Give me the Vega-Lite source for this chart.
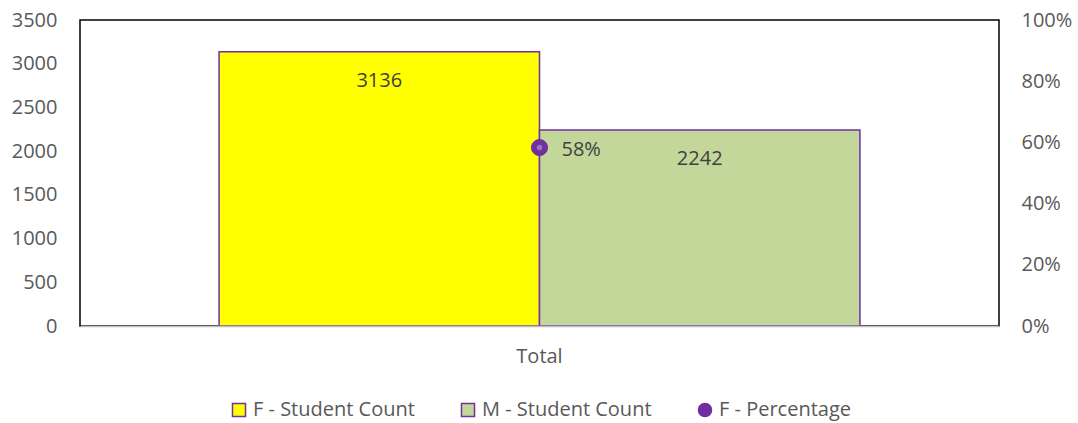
{
  "$schema": "https://vega.github.io/schema/vega-lite/v6.json",
  "width": 919,
  "height": 306,
  "padding": {"left": 11, "top": 10, "right": 5, "bottom": 5},
  "background": "white",
  "config": {
    "font": "Open Sans",
    "view": {"stroke": "#000000", "strokeWidth": 1.5},
    "axis": {"grid": false, "ticks": false, "labelFontSize": 20, "labelColor": "#595959", "titleColor": "#595959", "labelFont": "Open Sans"},
    "legend": {"labelFontSize": 20, "labelColor": "#595959", "labelFont": "Open Sans", "labelLimit": 0, "layout": {"bottom": {"anchor": "middle"}}}
  },
  "data": {
    "values": [
      {"category": "Total", "series": "F - Student Count", "count": 3136},
      {"category": "Total", "series": "M - Student Count", "count": 2242},
      {"category": "Total", "series": "F - Percentage", "pct": 0.5831}
    ]
  },
  "layer": [
    {
      "transform": [{"filter": "datum.count != null"}],
      "layer": [
        {
          "mark": {"type": "bar", "stroke": "#7030A0", "strokeWidth": 1.5},
          "encoding": {
            "x": {"field": "category", "type": "nominal", "title": null,
                  "scale": {"paddingInner": 0, "paddingOuter": 0.217},
                  "axis": {"labelAngle": 0, "labelPadding": 20, "domainColor": "#BFBFBF", "domainWidth": 1.5, "zindex": 1}},
            "xOffset": {"field": "series", "type": "nominal", "scale": {"domain": ["F - Student Count", "M - Student Count"], "paddingInner": 0, "paddingOuter": 0}},
            "y": {"field": "count", "type": "quantitative", "title": null,
                  "scale": {"domain": [0, 3500]},
                  "axis": {"values": [0, 500, 1000, 1500, 2000, 2500, 3000, 3500], "format": "d", "domain": false, "labelPadding": 23}},
            "fill": {"field": "series", "type": "nominal",
                     "scale": {"domain": ["F - Student Count", "M - Student Count", "F - Percentage"], "range": ["#FFFF00", "#C4D79B", "#7030A0"]},
                     "legend": {"title": null, "orient": "bottom", "direction": "horizontal", "symbolStrokeColor": "#7030A0", "symbolStrokeWidth": 1.5, "symbolSize": 170, "columnPadding": 43, "labelOffset": 4, "offset": 34}}
          }
        },
        {
          "mark": {"type": "text", "fontSize": 20, "color": "#404040", "baseline": "middle", "dy": 29, "font": "Open Sans"},
          "encoding": {
            "x": {"field": "category", "type": "nominal"},
            "xOffset": {"field": "series", "type": "nominal"},
            "y": {"field": "count", "type": "quantitative"},
            "text": {"field": "count", "type": "quantitative"}
          }
        }
      ]
    },
    {
      "transform": [{"filter": "datum.pct != null"}],
      "layer": [
        {
          "mark": {"type": "point", "filled": true, "size": 260, "stroke": "#7030A0", "strokeWidth": 1, "opacity": 1},
          "encoding": {
            "x": {"field": "category", "type": "nominal"},
            "y": {"field": "pct", "type": "quantitative", "title": null,
                  "scale": {"domain": [0, 1]},
                  "axis": {"orient": "right", "format": ".0%", "values": [0, 0.2, 0.4, 0.6, 0.8, 1], "domain": false, "labelPadding": 22}},
            "fill": {"field": "series", "type": "nominal"},
            "shape": {"field": "series", "type": "nominal",
                      "scale": {"domain": ["F - Student Count", "M - Student Count", "F - Percentage"], "range": ["square", "square", "circle"]}}
          }
        },
        {
          "mark": {"type": "point", "filled": true, "size": 30, "color": "#9577C2", "opacity": 1},
          "encoding": {
            "x": {"field": "category", "type": "nominal"},
            "y": {"field": "pct", "type": "quantitative"}
          }
        },
        {
          "mark": {"type": "text", "fontSize": 20, "color": "#404040", "align": "left", "baseline": "middle", "dx": 22, "dy": 2, "font": "Open Sans"},
          "encoding": {
            "x": {"field": "category", "type": "nominal"},
            "y": {"field": "pct", "type": "quantitative"},
            "text": {"field": "pct", "type": "quantitative", "format": ".0%"}
          }
        }
      ]
    }
  ],
  "resolve": {"scale": {"y": "independent"}}
}
